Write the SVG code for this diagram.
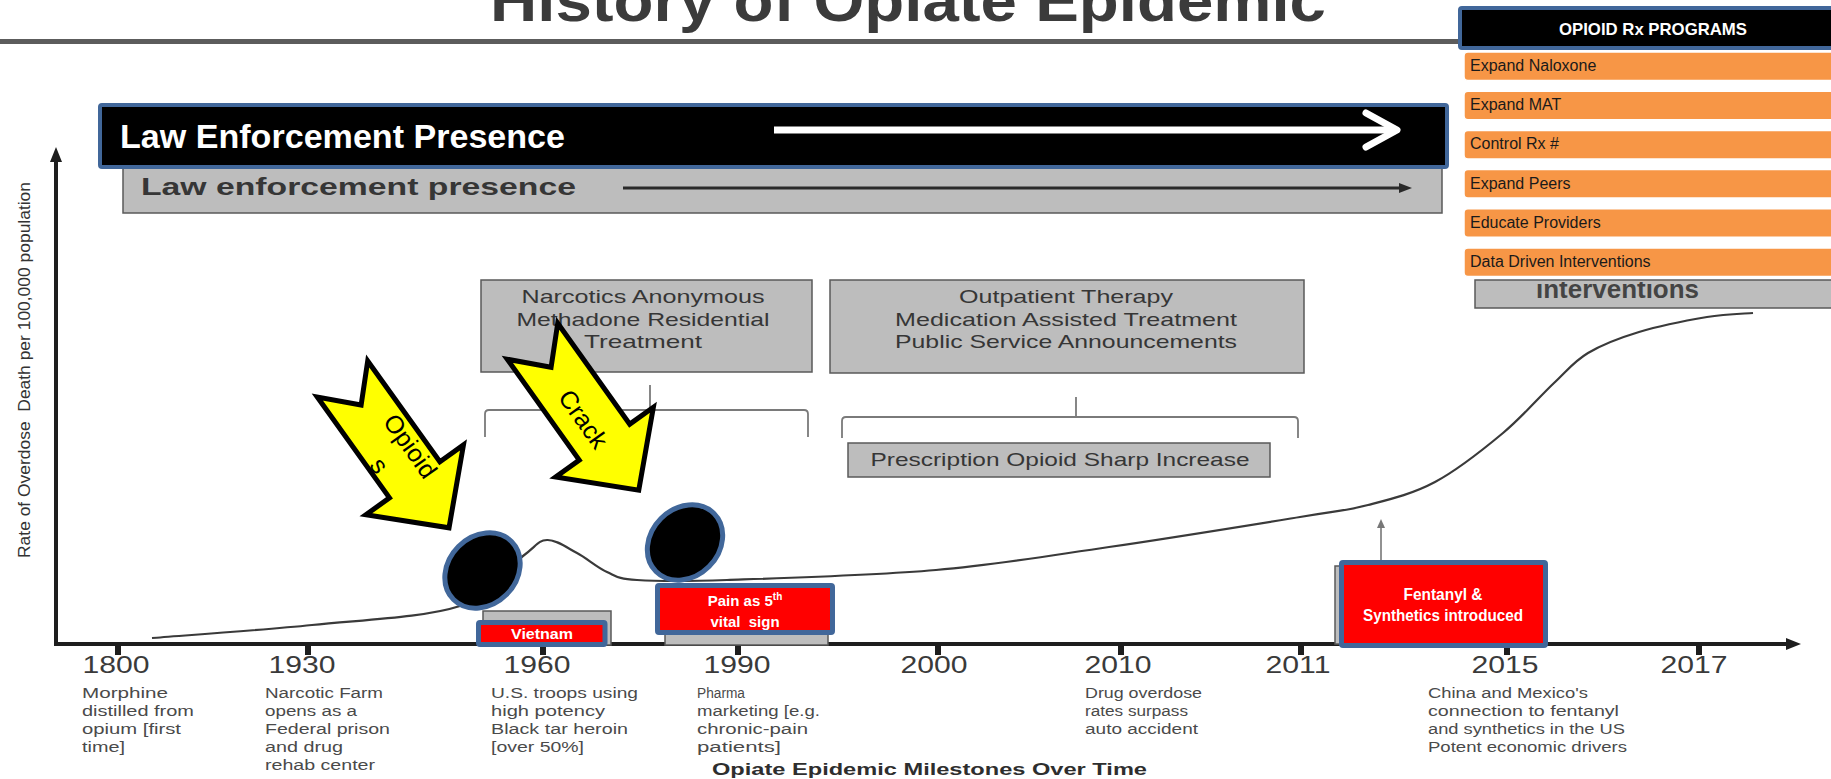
<svg xmlns="http://www.w3.org/2000/svg" width="1831" height="779" viewBox="0 0 1831 779">
<defs>
<style>
.sans{font-family:"Liberation Sans",Arial,sans-serif}
.scan{fill:#bdbdbd;stroke:#5a5a5a;stroke-width:1.5}
.scantxt{font-family:"Liberation Sans",Arial,sans-serif;fill:#363636;text-anchor:middle}
.ms{font-family:"Liberation Sans",Arial,sans-serif;font-size:14px;fill:#4a4a4a}
.yr{font-family:"Liberation Sans",Arial,sans-serif;font-size:23px;fill:#3a3a3a;text-anchor:middle}
.red{fill:#ff0000;stroke:#41679a;stroke-width:5}
.redtxt{font-family:"Liberation Sans",Arial,sans-serif;font-weight:bold;fill:#ffffff;text-anchor:middle}
.orange{fill:#f79646;stroke:#ffffff;stroke-width:1.5}
.otxt{font-family:"Liberation Sans",Arial,sans-serif;font-size:16px;fill:#1a1a1a}
.blk{fill:#000000;stroke:#41679a;stroke-width:4}
.yarrow{fill:#ffff00;stroke:#000000;stroke-width:5;stroke-linejoin:miter}
.atxt{font-family:"Liberation Sans",Arial,sans-serif;font-size:25px;fill:#000000;text-anchor:middle}
.dot{fill:#000000;stroke:#41679a;stroke-width:5}
.bracket{fill:none;stroke:#7a7a7a;stroke-width:1.8}
.axis{stroke:#1e1e1e;stroke-width:4;fill:none}
.tick{fill:#1e1e1e}
</style>
<marker id="axisHead" markerUnits="userSpaceOnUse" markerWidth="16" markerHeight="12" refX="1" refY="6" orient="auto">
<path d="M0,0 L15,6 L0,12 z" fill="#1e1e1e"/>
</marker>
<marker id="thinHead" markerUnits="userSpaceOnUse" markerWidth="14" markerHeight="10" refX="1" refY="5" orient="auto">
<path d="M0,0 L13,5 L0,10 z" fill="#2a2a2a"/>
</marker>
<marker id="smallHead" markerUnits="userSpaceOnUse" markerWidth="10" markerHeight="8" refX="1" refY="4" orient="auto">
<path d="M0,0 L9,4 L0,8 z" fill="#777777"/>
</marker>
<clipPath id="interventionsClip">
<rect x="1475" y="282" width="360" height="26"/>
</clipPath>
</defs>

<rect x="0" y="0" width="1831" height="779" fill="#ffffff"/>

<!-- heading and rule -->
<g id="title">
<text x="490" y="21" class="sans" font-size="60" font-weight="bold" fill="#3b3b3b" textLength="836" lengthAdjust="spacingAndGlyphs">History of Opiate Epidemic</text>
<rect x="0" y="39" width="1462" height="5" fill="#5c5c5c"/>
</g>

<!-- scanned band: law enforcement -->
<g id="law-scan">
<rect x="123" y="165" width="1319" height="48" class="scan" fill="#b6b6b6"/>
<text x="141" y="195" class="sans" font-size="24" font-weight="bold" fill="#363636" textLength="435" lengthAdjust="spacingAndGlyphs">Law enforcement presence</text>
<line x1="623" y1="188" x2="1400" y2="188" stroke="#2a2a2a" stroke-width="3" marker-end="url(#thinHead)"/>
</g>

<!-- black banner -->
<g id="law-banner">
<rect x="100" y="105" width="1347" height="62" rx="2" class="blk"/>
<text x="120" y="148" class="sans" font-size="33" font-weight="bold" fill="#ffffff" textLength="445" lengthAdjust="spacingAndGlyphs">Law Enforcement Presence</text>
<line x1="774" y1="130" x2="1394" y2="130" stroke="#ffffff" stroke-width="7"/>
<path d="M1366,113 L1397,130 L1366,147" fill="none" stroke="#ffffff" stroke-width="7" stroke-linecap="round" stroke-linejoin="round"/>
</g>

<!-- treatment boxes -->
<g id="narcotics-box">
<rect x="481" y="280" width="331" height="92" class="scan"/>
<text x="643" y="303" class="scantxt" font-size="19" textLength="243" lengthAdjust="spacingAndGlyphs">Narcotics Anonymous</text>
<text x="643" y="326" class="scantxt" font-size="19" textLength="253" lengthAdjust="spacingAndGlyphs">Methadone Residential</text>
<text x="643" y="348" class="scantxt" font-size="19" textLength="118" lengthAdjust="spacingAndGlyphs">Treatment</text>
</g>
<g id="outpatient-box">
<rect x="830" y="280" width="474" height="93" class="scan"/>
<text x="1066" y="303" class="scantxt" font-size="19" textLength="214" lengthAdjust="spacingAndGlyphs">Outpatient Therapy</text>
<text x="1066" y="326" class="scantxt" font-size="19" textLength="342" lengthAdjust="spacingAndGlyphs">Medication Assisted Treatment</text>
<text x="1066" y="348" class="scantxt" font-size="19" textLength="342" lengthAdjust="spacingAndGlyphs">Public Service Announcements</text>
</g>
<g id="brackets">
<path class="bracket" d="M485,437 L485,414 Q485,410 489,410 L804,410 Q808,410 808,414 L808,437 M650,410 L650,385"/>
<path class="bracket" d="M842,438 L842,421 Q842,417 846,417 L1294,417 Q1298,417 1298,421 L1298,438 M1076,417 L1076,397"/>
</g>
<g id="prescription-box">
<rect x="848" y="443" width="422" height="34" class="scan" fill="#c3c3c3"/>
<text x="1060" y="466" class="scantxt" font-size="19" textLength="379" lengthAdjust="spacingAndGlyphs">Prescription Opioid Sharp Increase</text>
</g>

<!-- chart axes -->
<g id="axes">
<line x1="56" y1="646" x2="56" y2="161" class="axis" marker-end="url(#axisHead)"/>
<line x1="54" y1="644" x2="1787" y2="644" class="axis" marker-end="url(#axisHead)"/>
<rect class="tick" x="115" y="645" width="6" height="10"/>
<rect class="tick" x="305" y="645" width="6" height="10"/>
<rect class="tick" x="540" y="645" width="6" height="10"/>
<rect class="tick" x="735" y="645" width="6" height="10"/>
<rect class="tick" x="935" y="645" width="6" height="10"/>
<rect class="tick" x="1118" y="645" width="6" height="10"/>
<rect class="tick" x="1298" y="645" width="6" height="10"/>
<rect class="tick" x="1504" y="645" width="6" height="10"/>
<rect class="tick" x="1696" y="645" width="6" height="10"/>
<text transform="translate(30,370) rotate(-90)" class="sans" font-size="17" fill="#333333" text-anchor="middle" textLength="376" lengthAdjust="spacingAndGlyphs">Rate of Overdose&#160; Death per 100,000 population</text>
</g>

<!-- overdose rate curve -->
<g id="connectors">
<path d="M152,638 C178.7,635.8 260.7,630.3 312,625 C363.3,619.7 424.8,617.5 460,606 C495.2,594.5 508.5,567 523,556 C537.5,545 538,540.5 547,540 C556,539.5 567,547.7 577,553 C587,558.3 597,567.5 607,572 C617,576.5 617,578.7 637,580 C657,581.3 677.2,581.7 727,580 C776.8,578.3 872.3,575.5 936,570 C999.7,564.5 1048.3,555.8 1109,547 C1169.7,538.2 1256.8,524 1300,517 C1343.2,510 1345.5,510.8 1368,505 C1390.5,499.2 1412.5,494 1435,482 C1457.5,470 1483.2,449.5 1503,433 C1522.8,416.5 1539.8,396.3 1554,383 C1568.2,369.7 1573.8,361.5 1588,353 C1602.2,344.5 1619.2,338 1639,332 C1658.8,326 1688,320.2 1707,317 C1726,313.8 1745.3,313.7 1753,313" fill="none" stroke="#3a3a3a" stroke-width="2.2"/>
<line x1="1381" y1="562" x2="1381" y2="527" stroke="#777777" stroke-width="1.6" marker-end="url(#smallHead)"/>
</g>

<!-- year labels -->
<g id="years">
<text class="yr" x="116" y="673" textLength="67" lengthAdjust="spacingAndGlyphs">1800</text>
<text class="yr" x="302" y="673" textLength="67" lengthAdjust="spacingAndGlyphs">1930</text>
<text class="yr" x="537" y="673" textLength="67" lengthAdjust="spacingAndGlyphs">1960</text>
<text class="yr" x="737" y="673" textLength="67" lengthAdjust="spacingAndGlyphs">1990</text>
<text class="yr" x="934" y="673" textLength="67" lengthAdjust="spacingAndGlyphs">2000</text>
<text class="yr" x="1118" y="673" textLength="67" lengthAdjust="spacingAndGlyphs">2010</text>
<text class="yr" x="1298" y="673" textLength="65" lengthAdjust="spacingAndGlyphs">2011</text>
<text class="yr" x="1505" y="673" textLength="67" lengthAdjust="spacingAndGlyphs">2015</text>
<text class="yr" x="1694" y="673" textLength="67" lengthAdjust="spacingAndGlyphs">2017</text>
</g>

<!-- milestone notes -->
<g id="milestone-1800">
<text class="ms" x="82" y="698" textLength="86" lengthAdjust="spacingAndGlyphs">Morphine</text>
<text class="ms" x="82" y="716" textLength="112" lengthAdjust="spacingAndGlyphs">distilled from</text>
<text class="ms" x="82" y="734" textLength="99" lengthAdjust="spacingAndGlyphs">opium [first</text>
<text class="ms" x="82" y="752" textLength="43" lengthAdjust="spacingAndGlyphs">time]</text>
</g>
<g id="milestone-1930">
<text class="ms" x="265" y="698" textLength="118" lengthAdjust="spacingAndGlyphs">Narcotic Farm</text>
<text class="ms" x="265" y="716" textLength="92" lengthAdjust="spacingAndGlyphs">opens as a</text>
<text class="ms" x="265" y="734" textLength="125" lengthAdjust="spacingAndGlyphs">Federal prison</text>
<text class="ms" x="265" y="752" textLength="78" lengthAdjust="spacingAndGlyphs">and drug</text>
<text class="ms" x="265" y="770" textLength="110" lengthAdjust="spacingAndGlyphs">rehab center</text>
</g>
<g id="milestone-1960">
<text class="ms" x="491" y="698" textLength="147" lengthAdjust="spacingAndGlyphs">U.S. troops using</text>
<text class="ms" x="491" y="716" textLength="114" lengthAdjust="spacingAndGlyphs">high potency</text>
<text class="ms" x="491" y="734" textLength="137" lengthAdjust="spacingAndGlyphs">Black tar heroin</text>
<text class="ms" x="491" y="752" textLength="93" lengthAdjust="spacingAndGlyphs">[over 50%]</text>
</g>
<g id="milestone-1990">
<text class="ms" x="697" y="698" textLength="48" lengthAdjust="spacingAndGlyphs">Pharma</text>
<text class="ms" x="697" y="716" textLength="123" lengthAdjust="spacingAndGlyphs">marketing [e.g.</text>
<text class="ms" x="697" y="734" textLength="111" lengthAdjust="spacingAndGlyphs">chronic-pain</text>
<text class="ms" x="697" y="752" textLength="84" lengthAdjust="spacingAndGlyphs">patients]</text>
</g>
<g id="milestone-2010">
<text class="ms" x="1085" y="698" textLength="117" lengthAdjust="spacingAndGlyphs">Drug overdose</text>
<text class="ms" x="1085" y="716" textLength="103" lengthAdjust="spacingAndGlyphs">rates surpass</text>
<text class="ms" x="1085" y="734" textLength="113" lengthAdjust="spacingAndGlyphs">auto accident</text>
</g>
<g id="milestone-2015">
<text class="ms" x="1428" y="698" textLength="160" lengthAdjust="spacingAndGlyphs">China and Mexico's</text>
<text class="ms" x="1428" y="716" textLength="191" lengthAdjust="spacingAndGlyphs">connection to fentanyl</text>
<text class="ms" x="1428" y="734" textLength="197" lengthAdjust="spacingAndGlyphs">and synthetics in the US</text>
<text class="ms" x="1428" y="752" textLength="199" lengthAdjust="spacingAndGlyphs">Potent economic drivers</text>
</g>
<g id="axis-caption">
<text x="712" y="775" class="sans" font-size="16" font-weight="bold" fill="#2e2e2e" textLength="435" lengthAdjust="spacingAndGlyphs">Opiate Epidemic Milestones Over Time</text>
</g>

<!-- event markers -->
<g id="vietnam">
<rect x="483" y="611" width="128" height="34" class="scan" fill="#c6c6c6"/>
<rect x="478.5" y="622.5" width="126.5" height="22" rx="1.5" class="red"/>
<text x="542" y="639" class="redtxt" font-size="15.5" textLength="62" lengthAdjust="spacingAndGlyphs">Vietnam</text>
</g>
<g id="pain-vital-sign">
<rect x="665" y="628" width="163" height="17" class="scan" fill="#c6c6c6"/>
<rect x="657.5" y="585.5" width="175" height="47" rx="1.5" class="red"/>
<text x="745" y="606" class="redtxt" font-size="15">Pain as 5<tspan font-size="10" dy="-6">th</tspan></text>
<text x="745" y="627" class="redtxt" font-size="15">vital&#160; sign</text>
</g>
<g id="fentanyl">
<rect x="1335" y="566" width="40" height="78" class="scan" fill="#c6c6c6"/>
<rect x="1341.5" y="562.5" width="204" height="83" rx="1.5" class="red"/>
<text x="1443" y="600" class="redtxt" font-size="16" textLength="79" lengthAdjust="spacingAndGlyphs">Fentanyl &amp;</text>
<text x="1443" y="621" class="redtxt" font-size="16" textLength="160" lengthAdjust="spacingAndGlyphs">Synthetics introduced</text>
</g>

<!-- black dots on the curve -->
<g id="dot-opioids">
<ellipse cx="482.5" cy="570.5" rx="41" ry="34" transform="rotate(-45 482.5 570.5)" class="dot"/>
</g>
<g id="dot-crack">
<ellipse cx="685" cy="542.5" rx="41" ry="34" transform="rotate(-45 685 542.5)" class="dot"/>
</g>

<!-- notched callout arrows -->
<g id="arrow-opioids" transform="translate(342.5,379) rotate(54.4)">
<polygon class="yarrow" points="0,-31 124,-31 124,-60 183,0 124,60 124,31 0,31 32,0"/>
<text class="atxt" x="94" y="-7.5">Opioid</text>
<text class="atxt" x="92" y="29">s</text>
</g>
<g id="arrow-crack" transform="translate(532.5,341.2) rotate(54.5)">
<polygon class="yarrow" points="0,-31 124,-31 124,-60 183,0 124,60 124,31 0,31 32,0"/>
<text class="atxt" x="93" y="12.5">Crack</text>
</g>

<!-- programs panel -->
<g id="interventions-scan">
<rect x="1475" y="280" width="380" height="28" class="scan" fill="#bababa" stroke="#2e2e2e" stroke-width="2"/>
<text x="1536" y="298" class="sans" font-size="26" font-weight="bold" fill="#444444" textLength="163" lengthAdjust="spacingAndGlyphs" clip-path="url(#interventionsClip)">interventions</text>
</g>
<g id="programs-header">
<rect x="1460" y="8" width="390" height="40" rx="2" class="blk"/>
<text x="1653" y="35" class="sans" font-size="17" font-weight="bold" fill="#ffffff" text-anchor="middle" textLength="188" lengthAdjust="spacingAndGlyphs">OPIOID Rx PROGRAMS</text>
</g>
<g id="program-naloxone">
<rect x="1464" y="52" width="390" height="28.5" rx="4" class="orange"/>
<text x="1470" y="71" class="otxt">Expand Naloxone</text>
</g>
<g id="program-mat">
<rect x="1464" y="91.2" width="390" height="28.5" rx="4" class="orange"/>
<text x="1470" y="110.2" class="otxt">Expand MAT</text>
</g>
<g id="program-control">
<rect x="1464" y="130.4" width="390" height="28.5" rx="4" class="orange"/>
<text x="1470" y="149.4" class="otxt">Control Rx #</text>
</g>
<g id="program-peers">
<rect x="1464" y="169.6" width="390" height="28.5" rx="4" class="orange"/>
<text x="1470" y="188.6" class="otxt">Expand Peers</text>
</g>
<g id="program-educate">
<rect x="1464" y="208.8" width="390" height="28.5" rx="4" class="orange"/>
<text x="1470" y="227.8" class="otxt">Educate Providers</text>
</g>
<g id="program-data">
<rect x="1464" y="248" width="390" height="28.5" rx="4" class="orange"/>
<text x="1470" y="267" class="otxt">Data Driven Interventions</text>
</g>
</svg>
